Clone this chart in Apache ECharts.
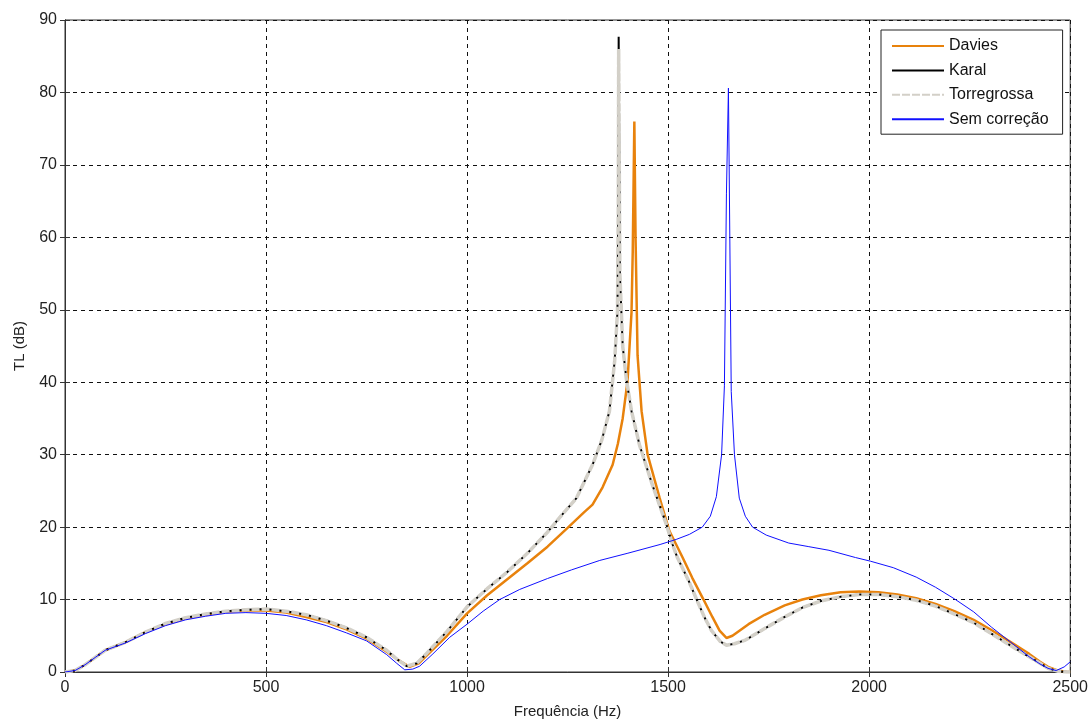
<!DOCTYPE html>
<html>
<head>
<meta charset="utf-8">
<script src="https://cdn.jsdelivr.net/npm/echarts@6/dist/echarts.min.js"></script>
<style>
  html, body { margin: 0; padding: 0; background: #fff; }
  #chart { width: 1091px; height: 724px; }
</style>
</head>
<body>
<div id="chart"></div>
<script>
  // frequencia (Hz) e TL (dB)
  const daviesHz = [0, 25, 50, 75, 100, 150, 200, 250, 300, 350, 400, 450, 500, 550, 600, 650, 700, 750, 800, 830, 857, 880, 900, 950, 1000, 1050, 1100, 1150, 1200, 1250, 1290, 1312, 1337, 1362, 1375, 1387, 1399, 1409, 1412, 1416, 1419, 1424, 1434, 1449, 1479, 1503, 1536, 1560, 1588, 1610, 1628, 1645, 1660, 1680, 1700, 1740, 1790, 1834, 1880, 1929, 1975, 2023, 2070, 2117, 2165, 2212, 2260, 2304, 2350, 2398, 2425, 2445, 2470, 2492, 2500];
  const daviesTL = [0, 0.2, 1.0, 2.0, 3.0, 4.1, 5.5, 6.6, 7.4, 7.9, 8.3, 8.5, 8.5, 8.2, 7.6, 6.9, 5.9, 4.6, 2.8, 1.6, 0.7, 1.2, 2.3, 5.0, 8.1, 10.6, 12.8, 15.0, 17.3, 19.9, 22.0, 23.1, 25.5, 28.6, 31.5, 35, 40.1, 49.7, 58, 76, 60, 43.7, 36, 30, 24, 19.5, 15.8, 13.0, 10.0, 7.6, 5.7, 4.7, 5.0, 5.8, 6.6, 7.9, 9.2, 10.0, 10.6, 11.0, 11.1, 11.0, 10.7, 10.2, 9.4, 8.4, 7.2, 5.8, 4.2, 2.5, 1.4, 0.7, 0.2, 0, 0];

  const karalHz = [0, 25, 50, 75, 100, 150, 200, 250, 300, 350, 400, 450, 500, 550, 600, 650, 700, 750, 800, 825, 850, 875, 900, 950, 1000, 1050, 1100, 1150, 1200, 1230, 1272, 1312, 1335, 1354, 1367, 1374, 1376, 1377, 1380, 1387, 1396, 1409, 1429, 1461, 1496, 1511, 1523, 1551, 1571, 1590, 1608, 1630, 1645, 1665, 1692, 1740, 1790, 1834, 1880, 1929, 1975, 2023, 2070, 2117, 2165, 2212, 2260, 2304, 2350, 2398, 2425, 2445, 2470, 2492, 2500];
  const karalTL = [0, 0.2, 1.0, 2.0, 3.0, 4.1, 5.5, 6.7, 7.5, 8.0, 8.4, 8.6, 8.7, 8.4, 7.9, 7.1, 6.1, 4.8, 3.0, 1.8, 0.8, 1.2, 2.6, 5.6, 9.0, 11.5, 13.8, 16.4, 19.3, 21.3, 24, 28.6, 32, 36, 42.9, 49.7, 63.9, 87.7, 55, 45, 40.5, 36, 31.3, 25.8, 20.3, 17.6, 15.8, 12.6, 10.0, 7.6, 5.7, 4.2, 3.7, 3.9, 4.4, 6.0, 7.6, 8.9, 9.8, 10.4, 10.7, 10.7, 10.4, 9.9, 9.1, 8.0, 6.8, 5.3, 3.7, 2.1, 1.2, 0.5, 0.1, 0, 0];

  const torregrossaHz = karalHz;
  const torregrossaTL = karalTL.map((v, i) => karalHz[i] === 1377 ? 86 : v);

  const semHz = [0, 25, 50, 75, 100, 150, 200, 250, 300, 350, 400, 450, 500, 550, 600, 650, 700, 750, 800, 825, 845, 865, 882, 915, 957, 1000, 1040, 1081, 1131, 1200, 1260, 1330, 1400, 1480, 1520, 1553, 1585, 1605, 1620, 1633, 1640, 1645, 1650, 1657, 1665, 1677, 1692, 1710, 1744, 1800, 1850, 1900, 1966, 2003, 2060, 2117, 2165, 2212, 2260, 2304, 2350, 2398, 2425, 2445, 2465, 2485, 2500];
  const semTL = [0, 0.2, 1.0, 2.0, 3.0, 4.0, 5.3, 6.4, 7.2, 7.7, 8.1, 8.2, 8.1, 7.8, 7.2, 6.4, 5.4, 4.3, 2.4, 1.2, 0.3, 0.4, 0.8, 2.5, 4.8, 6.6, 8.4, 10.0, 11.4, 12.9, 14.1, 15.4, 16.4, 17.6, 18.3, 19.0, 20.0, 21.5, 24.2, 30, 39.5, 66, 80.6, 38.7, 30, 24, 21.5, 20, 18.9, 17.8, 17.3, 16.8, 15.8, 15.3, 14.4, 13.1, 11.7, 10.1, 8.3, 6.2, 4.2, 2.1, 1.1, 0.5, 0.2, 0.7, 1.4];

  const xTicks = { min: 0, max: 2500, interval: 500 };
  const yTicks = { min: 0, max: 90, interval: 10 };

  const pairs = (xs, ys) => xs.map((x, i) => [x, ys[i]]);
  const FONT = 'Liberation Sans, Arial, sans-serif';

  const chart = echarts.init(document.getElementById('chart'));
  const option = {
    animation: false,
    backgroundColor: '#fff',
    grid: {
      left: 65, right: 20, top: 20, bottom: 49,
      show: true, borderColor: '#333', borderWidth: 1, backgroundColor: '#fff'
    },
    legend: {
      orient: 'vertical',
      left: 881, top: 30,
      backgroundColor: '#fff',
      borderColor: '#222', borderWidth: 1,
      padding: [8, 14, 7, 10],
      itemWidth: 52, itemHeight: 14, itemGap: 8.4,
      itemStyle: { opacity: 0 },
      textStyle: { fontFamily: FONT, fontSize: 16, color: '#111' },
      data: ['Davies', 'Karal', 'Torregrossa', 'Sem correção']
    },
    xAxis: [{
      type: 'value', min: xTicks.min, max: xTicks.max, interval: xTicks.interval,
      name: 'Frequência (Hz)', nameLocation: 'middle', nameGap: 32,
      nameTextStyle: { fontFamily: FONT, fontSize: 15, color: '#222' },
      axisLine: { lineStyle: { color: '#333' } },
      axisTick: { inside: true, length: 5, lineStyle: { color: '#333' } },
      axisLabel: { fontFamily: FONT, fontSize: 16, color: '#222', margin: 8, formatter: v => String(v) },
      splitLine: { show: true, lineStyle: { color: '#111', type: [4, 4], width: 1 } }
    }, {
      type: 'value', position: 'top', min: xTicks.min, max: xTicks.max, interval: xTicks.interval,
      axisLine: { lineStyle: { color: '#333' } },
      axisTick: { inside: true, length: 5, lineStyle: { color: '#333' } },
      axisLabel: { show: false }, splitLine: { show: false }
    }],
    yAxis: [{
      type: 'value', min: yTicks.min, max: yTicks.max, interval: yTicks.interval,
      name: 'TL (dB)', nameLocation: 'middle', nameGap: 38,
      nameTextStyle: { fontFamily: FONT, fontSize: 15, color: '#222' },
      axisLine: { show: true, lineStyle: { color: '#333' } },
      axisTick: { show: true, inside: true, length: 5, lineStyle: { color: '#333' } },
      axisLabel: { fontFamily: FONT, fontSize: 16, color: '#222', margin: 8 },
      splitLine: { show: true, lineStyle: { color: '#111', type: [4, 4], width: 1 } }
    }, {
      type: 'value', position: 'right', min: yTicks.min, max: yTicks.max, interval: yTicks.interval,
      axisLine: { show: true, lineStyle: { color: '#333' } },
      axisTick: { show: true, inside: true, length: 5, lineStyle: { color: '#333' } },
      axisLabel: { show: false }, splitLine: { show: false }
    }],
    series: [{
      name: 'Davies', type: 'line', symbol: 'none', smooth: false,
      data: pairs(daviesHz, daviesTL),
      lineStyle: { color: '#e8820c', width: 2.5 },
      itemStyle: { color: '#e8820c' }
    }, {
      name: 'Karal', type: 'line', symbol: 'none', smooth: false,
      data: pairs(karalHz, karalTL),
      lineStyle: { color: '#000', width: 2 },
      itemStyle: { color: '#000' }
    }, {
      name: 'Torregrossa', type: 'line', symbol: 'none', smooth: false,
      data: pairs(torregrossaHz, torregrossaTL),
      lineStyle: { color: '#d3d0c8', width: 3.5, type: [8, 2] },
      itemStyle: { color: '#d3d0c8' }
    }, {
      name: 'Sem correção', type: 'line', symbol: 'none', smooth: false,
      data: pairs(semHz, semTL),
      lineStyle: { color: '#1010ff', width: 1 },
      itemStyle: { color: '#1010ff' }
    }]
  };
  chart.setOption(option);
</script>
</body>
</html>
